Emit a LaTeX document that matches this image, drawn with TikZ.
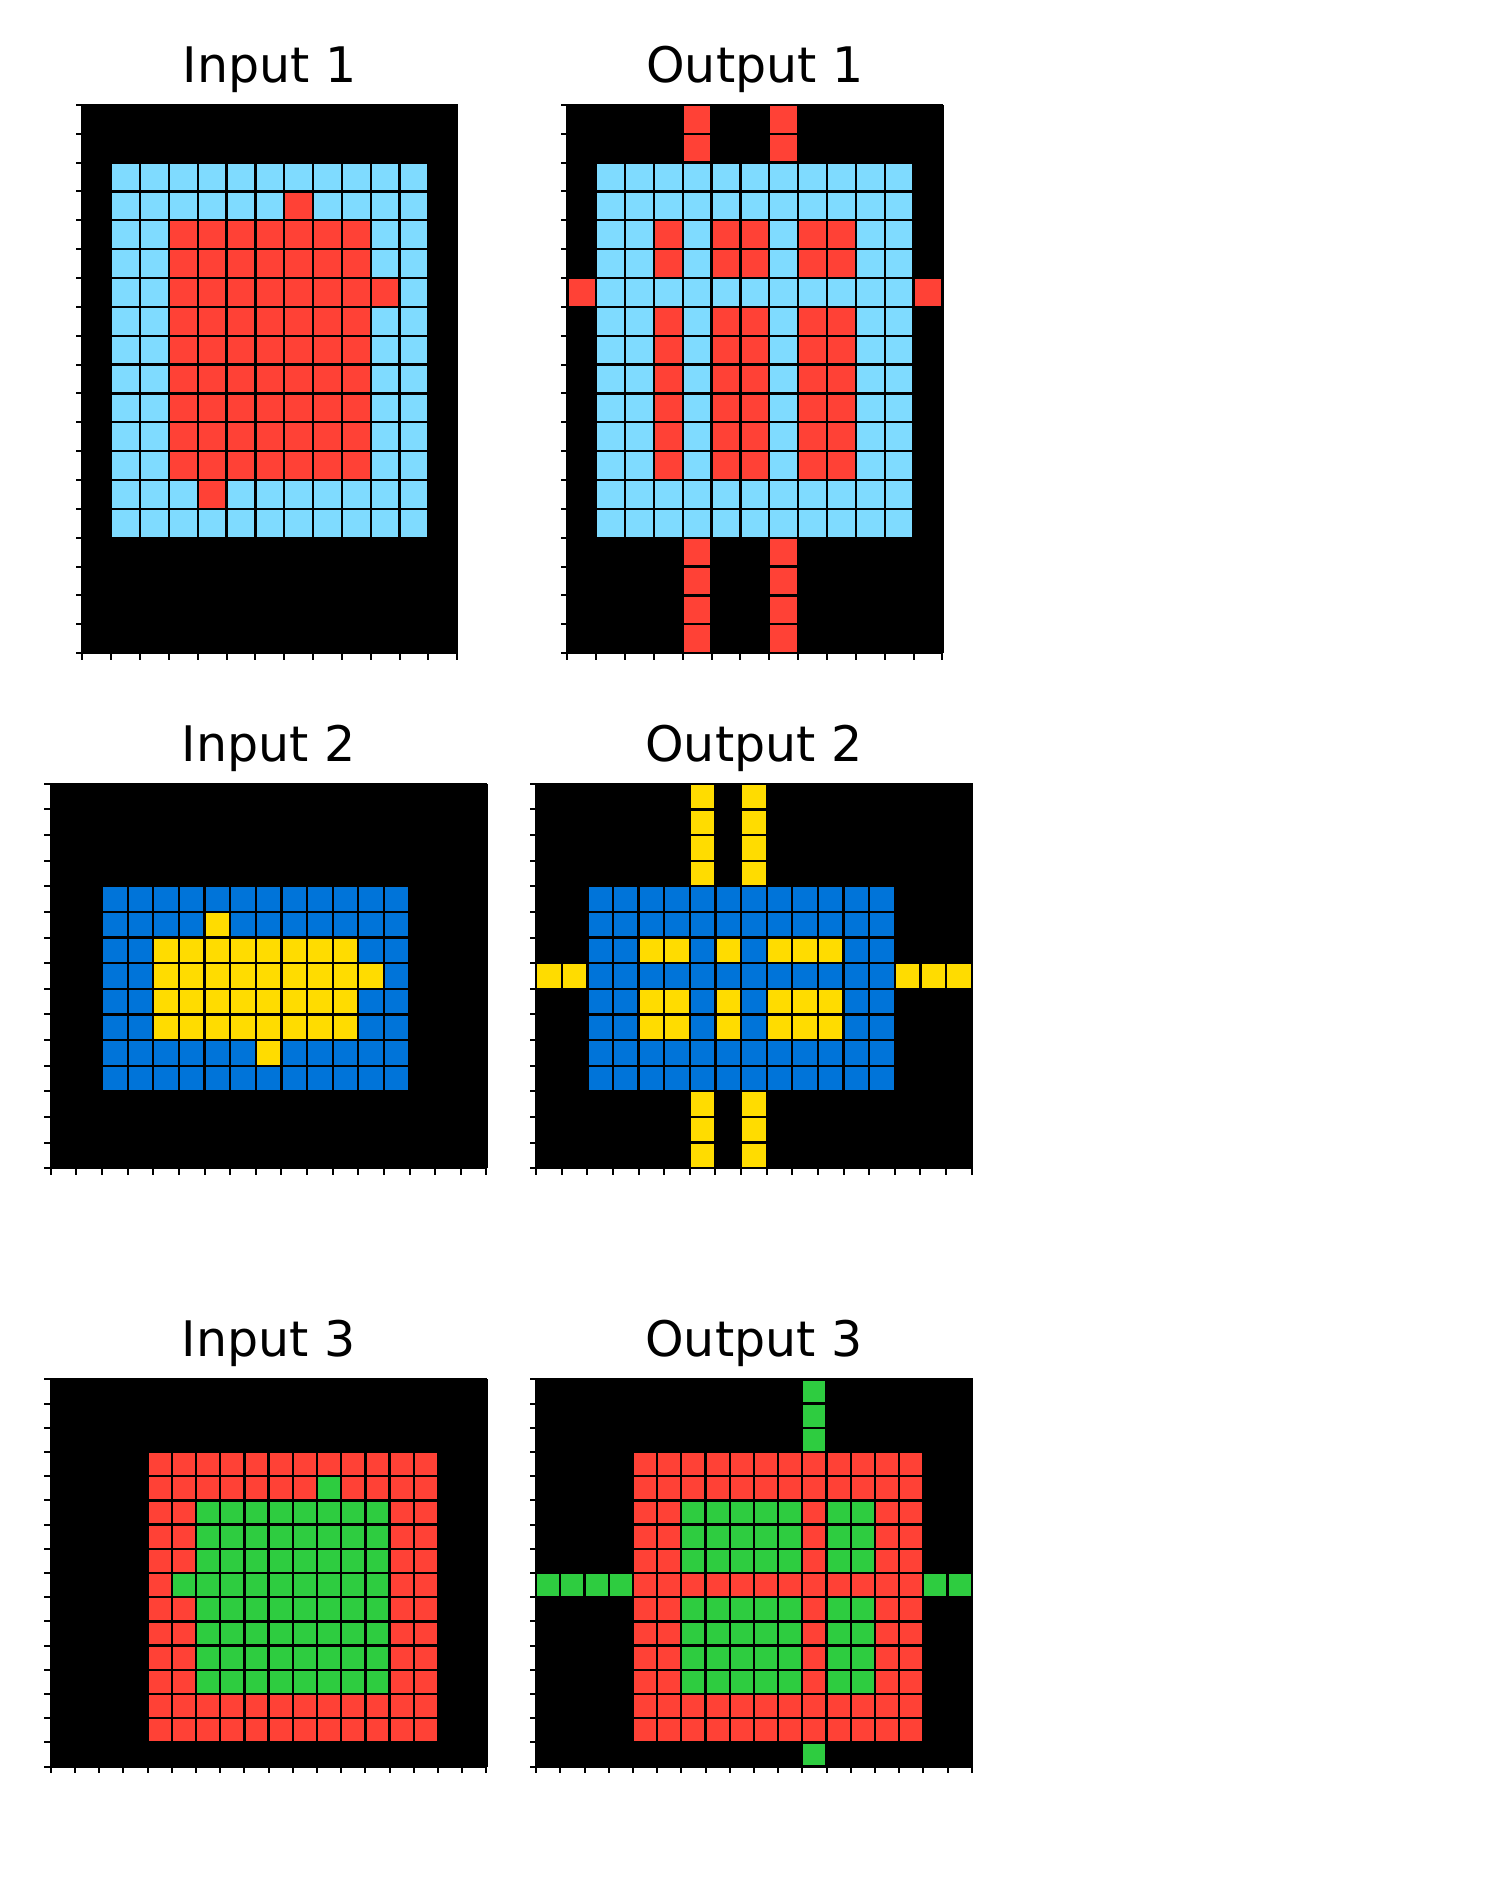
\documentclass[tikz,border=0pt]{standalone}
\usepackage{fontspec}
\setmainfont{DejaVu Sans}
\definecolor{arc1}{HTML}{0074D9}
\definecolor{arc2}{HTML}{FF4136}
\definecolor{arc3}{HTML}{2ECC40}
\definecolor{arc4}{HTML}{FFDC00}
\definecolor{arc8}{HTML}{7FDBFF}
\tikzset{
  gridline/.style={black, line width=0.92pt},
  axframe/.style={black, line width=0.8pt},
  tickmark/.style={black, line width=0.8pt},
  gridtitle/.style={inner sep=0pt, font=\fontsize{19.6}{23}\selectfont},
}
\newcommand\arcgrid[8]{%
 \begin{scope}
 \pgfmathsetmacro\gx{#1-#3*#5/2}
 \pgfmathsetmacro\gy{#2-#4*#5/2}
 \pgfmathsetmacro\gw{#3*#5}
 \pgfmathsetmacro\gh{#4*#5}
 \fill[black] (\gx,\gy) rectangle ++(\gw,\gh);
 \foreach \rowdata [count=\r from 0] in {#6} {
   \foreach \c [count=\k from 0] in \rowdata {
     \ifnum\c>0 \fill[arc\c] (\gx+\k*#5,\gy+\r*#5) rectangle ++(#5,#5);\fi
   }
 }
 \foreach \i in {0,...,#3} \draw[gridline] (\gx+\i*#5,\gy) -- ++(0,\gh);
 \foreach \j in {0,...,#4} \draw[gridline] (\gx,\gy+\j*#5) -- ++(\gw,0);
 \draw[axframe] (\gx,\gy) rectangle ++(\gw,\gh);
 \foreach \i in {0,...,#3} \draw[tickmark] (\gx+\i*#5,\gy+\gh) -- ++(0,6.5);
 \foreach \j in {0,...,#4} \draw[tickmark] (\gx,\gy+\j*#5) -- ++(-6.5,0);
 \node[gridtitle, anchor=base] (#8) at (#1,\gy-22.5) {#7};
 \end{scope}}
\begin{document}
\begin{tikzpicture}[x=0.4pt, y=-0.4pt]
\useasboundingbox (0,0) rectangle (1500,1890);
% ---------- Row 1 ----------
\arcgrid{269.8}{379}{13}{19}{28.85}{
{0,0,0,0,0,0,0,0,0,0,0,0,0},
{0,0,0,0,0,0,0,0,0,0,0,0,0},
{0,8,8,8,8,8,8,8,8,8,8,8,0},
{0,8,8,8,8,8,8,2,8,8,8,8,0},
{0,8,8,2,2,2,2,2,2,2,8,8,0},
{0,8,8,2,2,2,2,2,2,2,8,8,0},
{0,8,8,2,2,2,2,2,2,2,2,8,0},
{0,8,8,2,2,2,2,2,2,2,8,8,0},
{0,8,8,2,2,2,2,2,2,2,8,8,0},
{0,8,8,2,2,2,2,2,2,2,8,8,0},
{0,8,8,2,2,2,2,2,2,2,8,8,0},
{0,8,8,2,2,2,2,2,2,2,8,8,0},
{0,8,8,2,2,2,2,2,2,2,8,8,0},
{0,8,8,8,2,8,8,8,8,8,8,8,0},
{0,8,8,8,8,8,8,8,8,8,8,8,0},
{0,0,0,0,0,0,0,0,0,0,0,0,0},
{0,0,0,0,0,0,0,0,0,0,0,0,0},
{0,0,0,0,0,0,0,0,0,0,0,0,0},
{0,0,0,0,0,0,0,0,0,0,0,0,0}}{Input 1}{in1}
\arcgrid{754.9}{379}{13}{19}{28.85}{
{0,0,0,0,2,0,0,2,0,0,0,0,0},
{0,0,0,0,2,0,0,2,0,0,0,0,0},
{0,8,8,8,8,8,8,8,8,8,8,8,0},
{0,8,8,8,8,8,8,8,8,8,8,8,0},
{0,8,8,2,8,2,2,8,2,2,8,8,0},
{0,8,8,2,8,2,2,8,2,2,8,8,0},
{2,8,8,8,8,8,8,8,8,8,8,8,2},
{0,8,8,2,8,2,2,8,2,2,8,8,0},
{0,8,8,2,8,2,2,8,2,2,8,8,0},
{0,8,8,2,8,2,2,8,2,2,8,8,0},
{0,8,8,2,8,2,2,8,2,2,8,8,0},
{0,8,8,2,8,2,2,8,2,2,8,8,0},
{0,8,8,2,8,2,2,8,2,2,8,8,0},
{0,8,8,8,8,8,8,8,8,8,8,8,0},
{0,8,8,8,8,8,8,8,8,8,8,8,0},
{0,0,0,0,2,0,0,2,0,0,0,0,0},
{0,0,0,0,2,0,0,2,0,0,0,0,0},
{0,0,0,0,2,0,0,2,0,0,0,0,0},
{0,0,0,0,2,0,0,2,0,0,0,0,0}}{Output 1}{out1}
% ---------- Row 2 ----------
\arcgrid{268.6}{976}{17}{15}{25.62}{
{0,0,0,0,0,0,0,0,0,0,0,0,0,0,0,0,0},
{0,0,0,0,0,0,0,0,0,0,0,0,0,0,0,0,0},
{0,0,0,0,0,0,0,0,0,0,0,0,0,0,0,0,0},
{0,0,0,0,0,0,0,0,0,0,0,0,0,0,0,0,0},
{0,0,1,1,1,1,1,1,1,1,1,1,1,1,0,0,0},
{0,0,1,1,1,1,4,1,1,1,1,1,1,1,0,0,0},
{0,0,1,1,4,4,4,4,4,4,4,4,1,1,0,0,0},
{0,0,1,1,4,4,4,4,4,4,4,4,4,1,0,0,0},
{0,0,1,1,4,4,4,4,4,4,4,4,1,1,0,0,0},
{0,0,1,1,4,4,4,4,4,4,4,4,1,1,0,0,0},
{0,0,1,1,1,1,1,1,4,1,1,1,1,1,0,0,0},
{0,0,1,1,1,1,1,1,1,1,1,1,1,1,0,0,0},
{0,0,0,0,0,0,0,0,0,0,0,0,0,0,0,0,0},
{0,0,0,0,0,0,0,0,0,0,0,0,0,0,0,0,0},
{0,0,0,0,0,0,0,0,0,0,0,0,0,0,0,0,0}}{Input 2}{in2}
\arcgrid{753.9}{976}{17}{15}{25.62}{
{0,0,0,0,0,0,4,0,4,0,0,0,0,0,0,0,0},
{0,0,0,0,0,0,4,0,4,0,0,0,0,0,0,0,0},
{0,0,0,0,0,0,4,0,4,0,0,0,0,0,0,0,0},
{0,0,0,0,0,0,4,0,4,0,0,0,0,0,0,0,0},
{0,0,1,1,1,1,1,1,1,1,1,1,1,1,0,0,0},
{0,0,1,1,1,1,1,1,1,1,1,1,1,1,0,0,0},
{0,0,1,1,4,4,1,4,1,4,4,4,1,1,0,0,0},
{4,4,1,1,1,1,1,1,1,1,1,1,1,1,4,4,4},
{0,0,1,1,4,4,1,4,1,4,4,4,1,1,0,0,0},
{0,0,1,1,4,4,1,4,1,4,4,4,1,1,0,0,0},
{0,0,1,1,1,1,1,1,1,1,1,1,1,1,0,0,0},
{0,0,1,1,1,1,1,1,1,1,1,1,1,1,0,0,0},
{0,0,0,0,0,0,4,0,4,0,0,0,0,0,0,0,0},
{0,0,0,0,0,0,4,0,4,0,0,0,0,0,0,0,0},
{0,0,0,0,0,0,4,0,4,0,0,0,0,0,0,0,0}}{Output 2}{out2}
% ---------- Row 3 ----------
\arcgrid{268.6}{1573}{18}{16}{24.2}{
{0,0,0,0,0,0,0,0,0,0,0,0,0,0,0,0,0,0},
{0,0,0,0,0,0,0,0,0,0,0,0,0,0,0,0,0,0},
{0,0,0,0,0,0,0,0,0,0,0,0,0,0,0,0,0,0},
{0,0,0,0,2,2,2,2,2,2,2,2,2,2,2,2,0,0},
{0,0,0,0,2,2,2,2,2,2,2,3,2,2,2,2,0,0},
{0,0,0,0,2,2,3,3,3,3,3,3,3,3,2,2,0,0},
{0,0,0,0,2,2,3,3,3,3,3,3,3,3,2,2,0,0},
{0,0,0,0,2,2,3,3,3,3,3,3,3,3,2,2,0,0},
{0,0,0,0,2,3,3,3,3,3,3,3,3,3,2,2,0,0},
{0,0,0,0,2,2,3,3,3,3,3,3,3,3,2,2,0,0},
{0,0,0,0,2,2,3,3,3,3,3,3,3,3,2,2,0,0},
{0,0,0,0,2,2,3,3,3,3,3,3,3,3,2,2,0,0},
{0,0,0,0,2,2,3,3,3,3,3,3,3,3,2,2,0,0},
{0,0,0,0,2,2,2,2,2,2,2,2,2,2,2,2,0,0},
{0,0,0,0,2,2,2,2,2,2,2,2,2,2,2,2,0,0},
{0,0,0,0,0,0,0,0,0,0,0,0,0,0,0,0,0,0}}{Input 3}{in3}
\arcgrid{753.9}{1573}{18}{16}{24.2}{
{0,0,0,0,0,0,0,0,0,0,0,3,0,0,0,0,0,0},
{0,0,0,0,0,0,0,0,0,0,0,3,0,0,0,0,0,0},
{0,0,0,0,0,0,0,0,0,0,0,3,0,0,0,0,0,0},
{0,0,0,0,2,2,2,2,2,2,2,2,2,2,2,2,0,0},
{0,0,0,0,2,2,2,2,2,2,2,2,2,2,2,2,0,0},
{0,0,0,0,2,2,3,3,3,3,3,2,3,3,2,2,0,0},
{0,0,0,0,2,2,3,3,3,3,3,2,3,3,2,2,0,0},
{0,0,0,0,2,2,3,3,3,3,3,2,3,3,2,2,0,0},
{3,3,3,3,2,2,2,2,2,2,2,2,2,2,2,2,3,3},
{0,0,0,0,2,2,3,3,3,3,3,2,3,3,2,2,0,0},
{0,0,0,0,2,2,3,3,3,3,3,2,3,3,2,2,0,0},
{0,0,0,0,2,2,3,3,3,3,3,2,3,3,2,2,0,0},
{0,0,0,0,2,2,3,3,3,3,3,2,3,3,2,2,0,0},
{0,0,0,0,2,2,2,2,2,2,2,2,2,2,2,2,0,0},
{0,0,0,0,2,2,2,2,2,2,2,2,2,2,2,2,0,0},
{0,0,0,0,0,0,0,0,0,0,0,3,0,0,0,0,0,0}}{Output 3}{out3}
\end{tikzpicture}
\end{document}
